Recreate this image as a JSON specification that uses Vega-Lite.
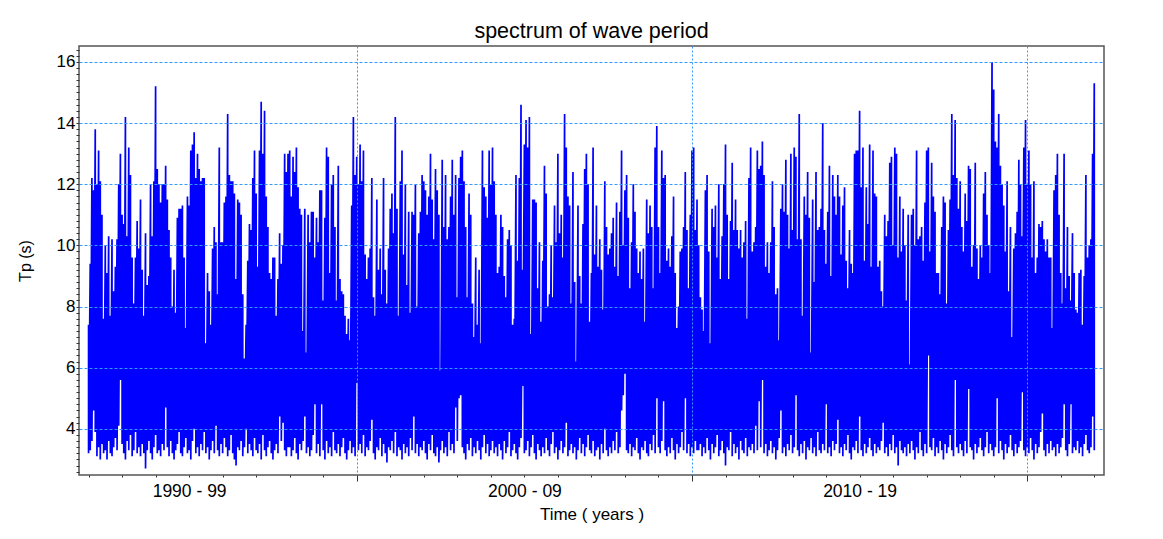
{
"$schema":"https://vega.github.io/schema/vega-lite/v6.json",
"width":1025,"height":429,
"autosize":{"type":"none"},
"padding":{"left":79,"top":46,"right":59,"bottom":64},
"background":"#ffffff",
"title":{"text":"spectrum of wave period","fontSize":21.5,"font":"Liberation Sans","fontWeight":"normal","color":"#000000","offset":-2,"anchor":"middle"},
"config":{"view":{"stroke":"#555555","strokeWidth":1.5},"font":"Liberation Sans"},
"data":{"values":[
{"t":1992,"h":7.4,"l":3.2},{"t":1992.05,"h":9.4,"l":3.3},{"t":1992.1,"h":12.2,"l":3.6},{"t":1992.15,"h":11.8,"l":4.6},{"t":1992.2,"h":13.8,"l":3.9},{"t":1992.25,"h":12.0,"l":3.1},{"t":1992.3,"h":13.1,"l":3.4},{"t":1992.35,"h":12.1,"l":3.0},{"t":1992.4,"h":11.0,"l":3.5},{"t":1992.45,"h":7.6,"l":3.2},
{"t":1992.5,"h":10.0,"l":3.3},{"t":1992.55,"h":9.1,"l":3.0},{"t":1992.6,"h":10.3,"l":3.6},{"t":1992.65,"h":7.7,"l":3.2},{"t":1992.7,"h":10.2,"l":3.1},{"t":1992.75,"h":8.5,"l":3.4},{"t":1992.8,"h":9.3,"l":3.7},{"t":1992.85,"h":10.2,"l":3.3},{"t":1992.9,"h":12.0,"l":4.1},{"t":1992.95,"h":13.0,"l":5.6},
{"t":1993,"h":11.0,"l":3.5},{"t":1993.05,"h":10.7,"l":3.2},{"t":1993.1,"h":14.2,"l":3.0},{"t":1993.15,"h":10.3,"l":3.6},{"t":1993.2,"h":13.2,"l":3.3},{"t":1993.25,"h":12.3,"l":3.8},{"t":1993.3,"h":9.6,"l":3.1},{"t":1993.35,"h":8.1,"l":3.3},{"t":1993.4,"h":9.6,"l":3.9},{"t":1993.45,"h":10.8,"l":3.2},
{"t":1993.5,"h":9.9,"l":3.4},{"t":1993.55,"h":11.5,"l":3.1},{"t":1993.6,"h":9.2,"l":3.5},{"t":1993.65,"h":7.7,"l":3.2},{"t":1993.7,"h":10.4,"l":2.7},{"t":1993.75,"h":8.7,"l":3.3},{"t":1993.8,"h":9.0,"l":3.6},{"t":1993.85,"h":12.0,"l":3.2},{"t":1993.9,"h":10.3,"l":3.0},{"t":1993.95,"h":12.1,"l":3.4},
{"t":1994,"h":15.2,"l":3.8},{"t":1994.05,"h":12.5,"l":3.2},{"t":1994.1,"h":12.0,"l":3.3},{"t":1994.15,"h":11.4,"l":3.1},{"t":1994.2,"h":12.0,"l":3.5},{"t":1994.25,"h":12.0,"l":3.3},{"t":1994.3,"h":12.6,"l":4.7},{"t":1994.35,"h":11.5,"l":3.4},{"t":1994.4,"h":10.5,"l":3.1},{"t":1994.45,"h":9.6,"l":3.6},
{"t":1994.5,"h":8.0,"l":3.2},{"t":1994.55,"h":9.2,"l":3.0},{"t":1994.6,"h":7.8,"l":3.3},{"t":1994.65,"h":10.9,"l":3.5},{"t":1994.7,"h":11.2,"l":3.9},{"t":1994.75,"h":11.2,"l":3.2},{"t":1994.8,"h":11.3,"l":3.1},{"t":1994.85,"h":9.6,"l":3.4},{"t":1994.9,"h":7.3,"l":3.7},{"t":1994.95,"h":11.6,"l":3.2},
{"t":1995,"h":11.3,"l":3.3},{"t":1995.05,"h":13.1,"l":3.0},{"t":1995.1,"h":13.3,"l":3.6},{"t":1995.15,"h":13.7,"l":4.0},{"t":1995.2,"h":12.2,"l":3.2},{"t":1995.25,"h":13.0,"l":3.4},{"t":1995.3,"h":12.5,"l":3.1},{"t":1995.35,"h":12.1,"l":3.5},{"t":1995.4,"h":12.2,"l":3.3},{"t":1995.45,"h":12.2,"l":3.9},
{"t":1995.5,"h":6.8,"l":3.2},{"t":1995.55,"h":9.1,"l":3.4},{"t":1995.6,"h":8.5,"l":3.0},{"t":1995.65,"h":7.4,"l":3.3},{"t":1995.7,"h":9.9,"l":3.6},{"t":1995.75,"h":10.6,"l":3.2},{"t":1995.8,"h":10.1,"l":4.1},{"t":1995.85,"h":8.4,"l":3.3},{"t":1995.9,"h":13.2,"l":3.1},{"t":1995.95,"h":10.1,"l":3.5},
{"t":1996,"h":10.1,"l":3.2},{"t":1996.05,"h":11.4,"l":3.7},{"t":1996.1,"h":11.6,"l":3.4},{"t":1996.15,"h":14.3,"l":3.1},{"t":1996.2,"h":12.3,"l":3.3},{"t":1996.25,"h":12.1,"l":3.8},{"t":1996.3,"h":12.1,"l":3.2},{"t":1996.35,"h":11.7,"l":3.0},{"t":1996.4,"h":8.9,"l":2.8},{"t":1996.45,"h":11.5,"l":3.4},
{"t":1996.5,"h":11.4,"l":3.3},{"t":1996.55,"h":11.0,"l":3.6},{"t":1996.6,"h":8.4,"l":3.1},{"t":1996.65,"h":6.3,"l":3.4},{"t":1996.7,"h":7.4,"l":4.0},{"t":1996.75,"h":9.5,"l":3.2},{"t":1996.8,"h":10.7,"l":3.5},{"t":1996.85,"h":10.5,"l":3.3},{"t":1996.9,"h":12.2,"l":3.1},{"t":1996.95,"h":13.1,"l":3.7},
{"t":1997,"h":11.7,"l":3.3},{"t":1997.05,"h":9.3,"l":3.2},{"t":1997.1,"h":13.1,"l":3.5},{"t":1997.15,"h":14.7,"l":3.0},{"t":1997.2,"h":13.0,"l":3.8},{"t":1997.25,"h":14.4,"l":3.3},{"t":1997.3,"h":11.6,"l":3.1},{"t":1997.35,"h":10.6,"l":3.4},{"t":1997.4,"h":9.1,"l":3.6},{"t":1997.45,"h":8.9,"l":3.2},
{"t":1997.5,"h":9.6,"l":3.0},{"t":1997.55,"h":9.6,"l":3.3},{"t":1997.6,"h":7.7,"l":3.5},{"t":1997.65,"h":8.9,"l":3.2},{"t":1997.7,"h":10.4,"l":4.4},{"t":1997.75,"h":9.4,"l":3.6},{"t":1997.8,"h":10.0,"l":4.2},{"t":1997.85,"h":13.0,"l":3.3},{"t":1997.9,"h":12.4,"l":3.1},{"t":1997.95,"h":13.0,"l":3.4},
{"t":1998,"h":13.1,"l":3.4},{"t":1998.05,"h":11.6,"l":3.1},{"t":1998.1,"h":12.9,"l":3.3},{"t":1998.15,"h":12.4,"l":3.7},{"t":1998.2,"h":13.2,"l":3.2},{"t":1998.25,"h":11.9,"l":3.0},{"t":1998.3,"h":11.2,"l":3.5},{"t":1998.35,"h":11.0,"l":3.3},{"t":1998.4,"h":7.2,"l":3.6},{"t":1998.45,"h":11.2,"l":4.4},
{"t":1998.5,"h":6.5,"l":3.2},{"t":1998.55,"h":11.0,"l":3.4},{"t":1998.6,"h":10.1,"l":3.1},{"t":1998.65,"h":11.1,"l":3.3},{"t":1998.7,"h":11.1,"l":3.8},{"t":1998.75,"h":9.6,"l":4.8},{"t":1998.8,"h":10.9,"l":3.2},{"t":1998.85,"h":10.1,"l":3.5},{"t":1998.9,"h":11.8,"l":3.1},{"t":1998.95,"h":11.8,"l":4.8},
{"t":1999,"h":8.2,"l":3.3},{"t":1999.05,"h":10.9,"l":3.0},{"t":1999.1,"h":13.2,"l":3.6},{"t":1999.15,"h":12.9,"l":3.2},{"t":1999.2,"h":9.1,"l":3.4},{"t":1999.25,"h":12.0,"l":3.1},{"t":1999.3,"h":12.3,"l":3.9},{"t":1999.35,"h":10.6,"l":3.3},{"t":1999.4,"h":8.2,"l":3.2},{"t":1999.45,"h":12.6,"l":3.5},
{"t":1999.5,"h":8.9,"l":3.1},{"t":1999.55,"h":8.5,"l":3.4},{"t":1999.6,"h":8.4,"l":3.7},{"t":1999.65,"h":7.7,"l":3.2},{"t":1999.7,"h":7.1,"l":3.0},{"t":1999.75,"h":7.6,"l":3.3},{"t":1999.8,"h":6.9,"l":3.6},{"t":1999.85,"h":11.3,"l":3.2},{"t":1999.9,"h":14.2,"l":3.4},{"t":1999.95,"h":12.3,"l":3.1},
{"t":2000,"h":12.9,"l":5.5},{"t":2000.05,"h":12.0,"l":3.3},{"t":2000.1,"h":13.3,"l":3.5},{"t":2000.15,"h":12.1,"l":3.2},{"t":2000.2,"h":13.1,"l":3.8},{"t":2000.25,"h":9.7,"l":3.1},{"t":2000.3,"h":8.9,"l":3.4},{"t":2000.35,"h":9.6,"l":3.3},{"t":2000.4,"h":9.9,"l":3.6},{"t":2000.45,"h":12.2,"l":4.3},
{"t":2000.5,"h":8.3,"l":3.2},{"t":2000.55,"h":7.7,"l":3.0},{"t":2000.6,"h":11.5,"l":3.4},{"t":2000.65,"h":9.2,"l":3.3},{"t":2000.7,"h":9.9,"l":3.7},{"t":2000.75,"h":8.4,"l":3.1},{"t":2000.8,"h":12.2,"l":3.5},{"t":2000.85,"h":9.2,"l":3.2},{"t":2000.9,"h":8.1,"l":2.9},{"t":2000.95,"h":9.9,"l":3.4},
{"t":2001,"h":11.2,"l":3.3},{"t":2001.05,"h":11.7,"l":3.6},{"t":2001.1,"h":10.4,"l":3.2},{"t":2001.15,"h":14.2,"l":3.9},{"t":2001.2,"h":11.2,"l":3.1},{"t":2001.25,"h":7.7,"l":3.4},{"t":2001.3,"h":12.1,"l":3.3},{"t":2001.35,"h":13.1,"l":3.0},{"t":2001.4,"h":9.7,"l":3.5},{"t":2001.45,"h":12.0,"l":3.2},
{"t":2001.5,"h":8.7,"l":3.4},{"t":2001.55,"h":11.1,"l":3.1},{"t":2001.6,"h":7.8,"l":3.7},{"t":2001.65,"h":11.1,"l":3.3},{"t":2001.7,"h":11.0,"l":4.4},{"t":2001.75,"h":12.0,"l":3.2},{"t":2001.8,"h":8.0,"l":3.5},{"t":2001.85,"h":10.4,"l":3.1},{"t":2001.9,"h":11.1,"l":3.4},{"t":2001.95,"h":12.3,"l":3.3},
{"t":2002,"h":12.1,"l":3.6},{"t":2002.05,"h":11.8,"l":3.2},{"t":2002.1,"h":11.0,"l":3.0},{"t":2002.15,"h":11.6,"l":3.5},{"t":2002.2,"h":13.0,"l":3.3},{"t":2002.25,"h":11.5,"l":3.8},{"t":2002.3,"h":10.2,"l":3.2},{"t":2002.35,"h":12.5,"l":3.1},{"t":2002.4,"h":11.8,"l":3.4},{"t":2002.45,"h":11.0,"l":2.9},
{"t":2002.5,"h":5.9,"l":3.3},{"t":2002.55,"h":12.8,"l":3.6},{"t":2002.6,"h":10.6,"l":3.2},{"t":2002.65,"h":12.3,"l":3.4},{"t":2002.7,"h":10.2,"l":3.1},{"t":2002.75,"h":10.6,"l":3.9},{"t":2002.8,"h":11.6,"l":3.3},{"t":2002.85,"h":12.8,"l":3.5},{"t":2002.9,"h":11.0,"l":3.2},{"t":2002.95,"h":12.3,"l":4.7},
{"t":2003,"h":8.3,"l":3.6},{"t":2003.05,"h":12.2,"l":5.0},{"t":2003.1,"h":12.9,"l":5.1},{"t":2003.15,"h":13.1,"l":3.4},{"t":2003.2,"h":12.1,"l":3.2},{"t":2003.25,"h":10.6,"l":3.0},{"t":2003.3,"h":8.3,"l":3.5},{"t":2003.35,"h":11.7,"l":3.3},{"t":2003.4,"h":11.0,"l":3.7},{"t":2003.45,"h":8.1,"l":3.1},
{"t":2003.5,"h":7.0,"l":3.4},{"t":2003.55,"h":9.6,"l":3.2},{"t":2003.6,"h":7.4,"l":3.6},{"t":2003.65,"h":9.2,"l":3.3},{"t":2003.7,"h":6.8,"l":3.0},{"t":2003.75,"h":13.1,"l":3.4},{"t":2003.8,"h":11.9,"l":3.8},{"t":2003.85,"h":11.6,"l":3.2},{"t":2003.9,"h":10.9,"l":3.5},{"t":2003.95,"h":13.1,"l":3.1},
{"t":2004,"h":12.0,"l":3.3},{"t":2004.05,"h":13.2,"l":3.6},{"t":2004.1,"h":12.1,"l":3.2},{"t":2004.15,"h":11.0,"l":3.4},{"t":2004.2,"h":9.1,"l":3.1},{"t":2004.25,"h":9.3,"l":3.5},{"t":2004.3,"h":11.0,"l":3.3},{"t":2004.35,"h":10.6,"l":3.0},{"t":2004.4,"h":9.0,"l":3.6},{"t":2004.45,"h":8.3,"l":3.2},
{"t":2004.5,"h":10.2,"l":3.4},{"t":2004.55,"h":10.5,"l":3.9},{"t":2004.6,"h":10.0,"l":3.1},{"t":2004.65,"h":7.4,"l":3.3},{"t":2004.7,"h":7.6,"l":3.5},{"t":2004.75,"h":12.3,"l":3.2},{"t":2004.8,"h":9.5,"l":3.0},{"t":2004.85,"h":12.2,"l":3.4},{"t":2004.9,"h":14.6,"l":3.7},{"t":2004.95,"h":9.2,"l":5.4},
{"t":2005,"h":13.3,"l":3.2},{"t":2005.05,"h":14.1,"l":3.3},{"t":2005.1,"h":13.2,"l":3.6},{"t":2005.15,"h":14.2,"l":3.1},{"t":2005.2,"h":7.1,"l":3.4},{"t":2005.25,"h":11.5,"l":3.8},{"t":2005.3,"h":11.5,"l":3.2},{"t":2005.35,"h":11.4,"l":3.0},{"t":2005.4,"h":8.6,"l":3.5},{"t":2005.45,"h":10.1,"l":3.3},
{"t":2005.5,"h":7.5,"l":3.1},{"t":2005.55,"h":9.5,"l":3.4},{"t":2005.6,"h":12.6,"l":3.2},{"t":2005.65,"h":11.7,"l":3.7},{"t":2005.7,"h":8.0,"l":3.3},{"t":2005.75,"h":8.4,"l":3.1},{"t":2005.8,"h":10.0,"l":3.5},{"t":2005.85,"h":8.3,"l":3.9},{"t":2005.9,"h":11.3,"l":3.2},{"t":2005.95,"h":10.1,"l":3.4},
{"t":2006,"h":13.0,"l":3.0},{"t":2006.05,"h":10.4,"l":3.3},{"t":2006.1,"h":11.0,"l":3.6},{"t":2006.15,"h":9.6,"l":3.2},{"t":2006.2,"h":14.3,"l":3.4},{"t":2006.25,"h":13.2,"l":4.2},{"t":2006.3,"h":11.6,"l":3.1},{"t":2006.35,"h":11.3,"l":3.3},{"t":2006.4,"h":8.1,"l":3.5},{"t":2006.45,"h":12.4,"l":3.2},
{"t":2006.5,"h":8.8,"l":3.4},{"t":2006.55,"h":6.2,"l":3.0},{"t":2006.6,"h":11.3,"l":3.3},{"t":2006.65,"h":9.0,"l":3.7},{"t":2006.7,"h":8.1,"l":3.2},{"t":2006.75,"h":10.7,"l":3.5},{"t":2006.8,"h":12.5,"l":3.1},{"t":2006.85,"h":13.0,"l":3.4},{"t":2006.9,"h":12.0,"l":3.8},{"t":2006.95,"h":7.5,"l":3.3},
{"t":2007,"h":9.1,"l":3.2},{"t":2007.05,"h":13.2,"l":3.6},{"t":2007.1,"h":9.7,"l":3.1},{"t":2007.15,"h":11.3,"l":3.3},{"t":2007.2,"h":9.3,"l":3.4},{"t":2007.25,"h":10.2,"l":3.0},{"t":2007.3,"h":9.2,"l":3.5},{"t":2007.35,"h":7.9,"l":3.2},{"t":2007.4,"h":12.1,"l":4.0},{"t":2007.45,"h":10.6,"l":3.3},
{"t":2007.5,"h":9.7,"l":3.1},{"t":2007.55,"h":9.9,"l":3.4},{"t":2007.6,"h":10.4,"l":3.2},{"t":2007.65,"h":10.9,"l":3.6},{"t":2007.7,"h":9.3,"l":3.3},{"t":2007.75,"h":11.4,"l":3.9},{"t":2007.8,"h":9.0,"l":3.2},{"t":2007.85,"h":11.1,"l":3.4},{"t":2007.9,"h":13.1,"l":4.6},{"t":2007.95,"h":10.0,"l":5.1},
{"t":2008,"h":11.8,"l":5.8},{"t":2008.05,"h":12.3,"l":3.3},{"t":2008.1,"h":10.9,"l":3.2},{"t":2008.15,"h":8.6,"l":3.5},{"t":2008.2,"h":10.1,"l":3.1},{"t":2008.25,"h":12.0,"l":3.4},{"t":2008.3,"h":11.1,"l":3.3},{"t":2008.35,"h":9.9,"l":3.7},{"t":2008.4,"h":9.1,"l":3.2},{"t":2008.45,"h":9.8,"l":3.0},
{"t":2008.5,"h":8.9,"l":3.4},{"t":2008.55,"h":9.9,"l":3.3},{"t":2008.6,"h":7.5,"l":3.6},{"t":2008.65,"h":11.5,"l":3.2},{"t":2008.7,"h":10.4,"l":3.1},{"t":2008.75,"h":11.3,"l":3.5},{"t":2008.8,"h":10.6,"l":3.3},{"t":2008.85,"h":8.6,"l":3.8},{"t":2008.9,"h":13.2,"l":3.2},{"t":2008.95,"h":13.9,"l":5.0},
{"t":2009,"h":10.6,"l":3.4},{"t":2009.05,"h":9.1,"l":3.2},{"t":2009.1,"h":13.1,"l":3.6},{"t":2009.15,"h":12.2,"l":4.9},{"t":2009.2,"h":12.3,"l":3.3},{"t":2009.25,"h":9.5,"l":3.1},{"t":2009.3,"h":9.9,"l":3.4},{"t":2009.35,"h":9.3,"l":3.2},{"t":2009.4,"h":10.3,"l":3.7},{"t":2009.45,"h":11.6,"l":3.3},
{"t":2009.5,"h":9.1,"l":3.0},{"t":2009.55,"h":7.3,"l":3.5},{"t":2009.6,"h":8.0,"l":3.2},{"t":2009.65,"h":9.8,"l":3.4},{"t":2009.7,"h":9.9,"l":3.9},{"t":2009.75,"h":10.6,"l":3.3},{"t":2009.8,"h":12.4,"l":5.0},{"t":2009.85,"h":10.5,"l":3.2},{"t":2009.9,"h":8.6,"l":3.5},{"t":2009.95,"h":11.0,"l":3.1},
{"t":2010,"h":13.1,"l":3.4},{"t":2010.05,"h":13.2,"l":3.2},{"t":2010.1,"h":10.5,"l":3.6},{"t":2010.15,"h":11.5,"l":3.3},{"t":2010.2,"h":10.0,"l":3.3},{"t":2010.25,"h":8.3,"l":3.5},{"t":2010.3,"h":7.9,"l":3.1},{"t":2010.35,"h":7.2,"l":3.4},{"t":2010.4,"h":11.8,"l":3.2},{"t":2010.45,"h":12.3,"l":3.7},
{"t":2010.5,"h":9.8,"l":3.3},{"t":2010.55,"h":6.8,"l":3.0},{"t":2010.6,"h":11.2,"l":3.5},{"t":2010.65,"h":10.6,"l":3.2},{"t":2010.7,"h":11.3,"l":3.4},{"t":2010.75,"h":9.6,"l":3.8},{"t":2010.8,"h":12.0,"l":3.1},{"t":2010.85,"h":8.9,"l":3.3},{"t":2010.9,"h":10.3,"l":3.6},{"t":2010.95,"h":12.0,"l":3.2},
{"t":2011,"h":13.3,"l":2.8},{"t":2011.05,"h":11.0,"l":3.4},{"t":2011.1,"h":8.9,"l":3.3},{"t":2011.15,"h":10.8,"l":3.9},{"t":2011.2,"h":12.7,"l":3.1},{"t":2011.25,"h":10.5,"l":3.5},{"t":2011.3,"h":11.5,"l":3.2},{"t":2011.35,"h":10.5,"l":3.4},{"t":2011.4,"h":9.9,"l":3.0},{"t":2011.45,"h":10.5,"l":3.6},
{"t":2011.5,"h":9.6,"l":3.3},{"t":2011.55,"h":10.1,"l":3.2},{"t":2011.6,"h":10.8,"l":3.7},{"t":2011.65,"h":7.6,"l":3.1},{"t":2011.7,"h":12.2,"l":3.4},{"t":2011.75,"h":13.2,"l":3.3},{"t":2011.8,"h":9.8,"l":3.5},{"t":2011.85,"h":10.1,"l":3.2},{"t":2011.9,"h":10.6,"l":4.1},{"t":2011.95,"h":13.1,"l":3.3},
{"t":2012,"h":12.5,"l":4.9},{"t":2012.05,"h":12.6,"l":3.4},{"t":2012.1,"h":13.4,"l":5.6},{"t":2012.15,"h":12.3,"l":3.2},{"t":2012.2,"h":9.3,"l":3.5},{"t":2012.25,"h":10.1,"l":3.1},{"t":2012.3,"h":9.1,"l":3.3},{"t":2012.35,"h":10.1,"l":3.6},{"t":2012.4,"h":12.1,"l":3.2},{"t":2012.45,"h":10.6,"l":3.4},
{"t":2012.5,"h":8.4,"l":3.0},{"t":2012.55,"h":8.6,"l":3.3},{"t":2012.6,"h":6.9,"l":3.7},{"t":2012.65,"h":11.2,"l":4.6},{"t":2012.7,"h":12.0,"l":3.2},{"t":2012.75,"h":11.1,"l":3.4},{"t":2012.8,"h":12.8,"l":3.1},{"t":2012.85,"h":11.0,"l":3.5},{"t":2012.9,"h":9.9,"l":3.3},{"t":2012.95,"h":13.0,"l":3.8},
{"t":2013,"h":10.5,"l":3.2},{"t":2013.05,"h":13.2,"l":3.4},{"t":2013.1,"h":12.9,"l":5.1},{"t":2013.15,"h":10.2,"l":3.3},{"t":2013.2,"h":14.3,"l":3.1},{"t":2013.25,"h":10.2,"l":3.5},{"t":2013.3,"h":7.7,"l":3.2},{"t":2013.35,"h":11.6,"l":3.6},{"t":2013.4,"h":11.0,"l":3.0},{"t":2013.45,"h":12.4,"l":3.4},
{"t":2013.5,"h":10.9,"l":3.3},{"t":2013.55,"h":6.5,"l":3.7},{"t":2013.6,"h":11.5,"l":3.2},{"t":2013.65,"h":8.8,"l":3.4},{"t":2013.7,"h":12.4,"l":3.1},{"t":2013.75,"h":10.5,"l":3.9},{"t":2013.8,"h":10.6,"l":3.3},{"t":2013.85,"h":11.2,"l":3.2},{"t":2013.9,"h":14.0,"l":3.5},{"t":2013.95,"h":10.5,"l":3.3},
{"t":2014,"h":9.4,"l":4.8},{"t":2014.05,"h":11.1,"l":3.2},{"t":2014.1,"h":12.6,"l":3.4},{"t":2014.15,"h":9.0,"l":3.1},{"t":2014.2,"h":12.3,"l":3.6},{"t":2014.25,"h":11.6,"l":3.3},{"t":2014.3,"h":11.0,"l":3.5},{"t":2014.35,"h":12.3,"l":4.3},{"t":2014.4,"h":11.6,"l":3.2},{"t":2014.45,"h":9.7,"l":3.4},
{"t":2014.5,"h":11.3,"l":3.1},{"t":2014.55,"h":11.9,"l":3.5},{"t":2014.6,"h":9.5,"l":3.3},{"t":2014.65,"h":8.6,"l":3.8},{"t":2014.7,"h":10.5,"l":3.2},{"t":2014.75,"h":9.4,"l":3.0},{"t":2014.8,"h":9.1,"l":3.4},{"t":2014.85,"h":13.0,"l":3.3},{"t":2014.9,"h":13.1,"l":3.6},{"t":2014.95,"h":13.1,"l":3.2},
{"t":2015,"h":14.4,"l":4.4},{"t":2015.05,"h":11.9,"l":3.3},{"t":2015.1,"h":13.2,"l":3.1},{"t":2015.15,"h":9.5,"l":3.5},{"t":2015.2,"h":11.9,"l":3.2},{"t":2015.25,"h":10.7,"l":3.4},{"t":2015.3,"h":13.3,"l":3.7},{"t":2015.35,"h":9.3,"l":3.3},{"t":2015.4,"h":13.1,"l":3.1},{"t":2015.45,"h":11.7,"l":3.5},
{"t":2015.5,"h":11.6,"l":3.2},{"t":2015.55,"h":9.3,"l":3.4},{"t":2015.6,"h":9.5,"l":3.3},{"t":2015.65,"h":8.5,"l":3.6},{"t":2015.7,"h":8.0,"l":4.2},{"t":2015.75,"h":11.0,"l":3.2},{"t":2015.8,"h":10.3,"l":3.4},{"t":2015.85,"h":10.8,"l":3.1},{"t":2015.9,"h":12.7,"l":3.5},{"t":2015.95,"h":12.9,"l":3.3},
{"t":2016,"h":10.0,"l":3.8},{"t":2016.05,"h":13.2,"l":3.2},{"t":2016.1,"h":13.0,"l":3.4},{"t":2016.15,"h":9.6,"l":2.8},{"t":2016.2,"h":11.6,"l":3.6},{"t":2016.25,"h":9.8,"l":3.3},{"t":2016.3,"h":11.2,"l":3.2},{"t":2016.35,"h":10.0,"l":3.4},{"t":2016.4,"h":8.2,"l":3.1},{"t":2016.45,"h":11.0,"l":3.5},
{"t":2016.5,"h":6.1,"l":3.2},{"t":2016.55,"h":11.0,"l":3.6},{"t":2016.6,"h":11.2,"l":3.3},{"t":2016.65,"h":10.0,"l":3.0},{"t":2016.7,"h":13.1,"l":3.4},{"t":2016.75,"h":10.2,"l":3.2},{"t":2016.8,"h":10.3,"l":3.9},{"t":2016.85,"h":10.6,"l":3.3},{"t":2016.9,"h":9.5,"l":3.1},{"t":2016.95,"h":11.4,"l":3.5},
{"t":2017,"h":13.1,"l":3.2},{"t":2017.05,"h":13.2,"l":6.4},{"t":2017.1,"h":9.8,"l":3.4},{"t":2017.15,"h":12.7,"l":3.3},{"t":2017.2,"h":11.6,"l":3.7},{"t":2017.25,"h":11.1,"l":3.1},{"t":2017.3,"h":9.1,"l":3.4},{"t":2017.35,"h":9.1,"l":3.2},{"t":2017.4,"h":8.4,"l":3.6},{"t":2017.45,"h":10.6,"l":3.3},
{"t":2017.5,"h":11.6,"l":3.0},{"t":2017.55,"h":11.4,"l":3.5},{"t":2017.6,"h":8.1,"l":3.2},{"t":2017.65,"h":10.5,"l":3.4},{"t":2017.7,"h":11.5,"l":3.8},{"t":2017.75,"h":14.3,"l":3.3},{"t":2017.8,"h":12.3,"l":3.1},{"t":2017.85,"h":14.1,"l":5.6},{"t":2017.9,"h":12.2,"l":3.4},{"t":2017.95,"h":11.2,"l":3.2},
{"t":2018,"h":12.1,"l":3.5},{"t":2018.05,"h":10.6,"l":3.3},{"t":2018.1,"h":9.8,"l":3.1},{"t":2018.15,"h":11.7,"l":3.6},{"t":2018.2,"h":10.8,"l":3.2},{"t":2018.25,"h":12.6,"l":5.3},{"t":2018.3,"h":12.5,"l":3.4},{"t":2018.35,"h":9.3,"l":3.3},{"t":2018.4,"h":10.0,"l":3.0},{"t":2018.45,"h":12.7,"l":3.5},
{"t":2018.5,"h":9.9,"l":3.2},{"t":2018.55,"h":8.9,"l":3.4},{"t":2018.6,"h":10.0,"l":3.7},{"t":2018.65,"h":9.6,"l":3.3},{"t":2018.7,"h":11.7,"l":3.1},{"t":2018.75,"h":12.4,"l":3.4},{"t":2018.8,"h":11.0,"l":3.9},{"t":2018.85,"h":10.0,"l":3.2},{"t":2018.9,"h":9.1,"l":3.5},{"t":2018.95,"h":16.0,"l":3.3},
{"t":2019,"h":15.1,"l":3.1},{"t":2019.05,"h":13.4,"l":3.4},{"t":2019.1,"h":13.2,"l":5.0},{"t":2019.15,"h":14.3,"l":3.2},{"t":2019.2,"h":12.6,"l":3.6},{"t":2019.25,"h":12.0,"l":3.3},{"t":2019.3,"h":11.3,"l":3.0},{"t":2019.35,"h":9.8,"l":3.5},{"t":2019.4,"h":12.1,"l":3.2},{"t":2019.45,"h":8.5,"l":3.4},
{"t":2019.5,"h":10.6,"l":3.8},{"t":2019.55,"h":7.0,"l":3.3},{"t":2019.6,"h":9.9,"l":3.1},{"t":2019.65,"h":10.4,"l":3.5},{"t":2019.7,"h":11.1,"l":3.2},{"t":2019.75,"h":12.8,"l":3.4},{"t":2019.8,"h":12.0,"l":3.6},{"t":2019.85,"h":10.3,"l":5.2},{"t":2019.9,"h":13.2,"l":3.3},{"t":2019.95,"h":14.1,"l":3.1},
{"t":2020,"h":12.0,"l":3.4},{"t":2020.05,"h":13.1,"l":3.2},{"t":2020.1,"h":12.0,"l":3.7},{"t":2020.15,"h":9.6,"l":3.3},{"t":2020.2,"h":12.1,"l":3.0},{"t":2020.25,"h":9.1,"l":3.5},{"t":2020.3,"h":9.6,"l":3.2},{"t":2020.35,"h":10.7,"l":3.4},{"t":2020.4,"h":10.6,"l":3.9},{"t":2020.45,"h":10.8,"l":4.5},
{"t":2020.5,"h":10.2,"l":3.3},{"t":2020.55,"h":9.8,"l":3.1},{"t":2020.6,"h":10.2,"l":3.5},{"t":2020.65,"h":9.6,"l":3.2},{"t":2020.7,"h":9.6,"l":3.6},{"t":2020.75,"h":7.3,"l":3.3},{"t":2020.8,"h":11.8,"l":3.4},{"t":2020.85,"h":12.3,"l":3.1},{"t":2020.9,"h":13.0,"l":3.5},{"t":2020.95,"h":11.0,"l":3.2},
{"t":2021,"h":9.1,"l":3.4},{"t":2021.05,"h":8.1,"l":3.7},{"t":2021.1,"h":13.0,"l":4.8},{"t":2021.15,"h":8.6,"l":3.3},{"t":2021.2,"h":10.6,"l":3.1},{"t":2021.25,"h":9.0,"l":3.5},{"t":2021.3,"h":8.2,"l":4.8},{"t":2021.35,"h":10.4,"l":3.2},{"t":2021.4,"h":9.1,"l":3.4},{"t":2021.45,"h":7.9,"l":3.3},
{"t":2021.5,"h":7.8,"l":3.6},{"t":2021.55,"h":9.1,"l":3.2},{"t":2021.6,"h":9.2,"l":3.4},{"t":2021.65,"h":7.4,"l":3.1},{"t":2021.7,"h":9.0,"l":3.5},{"t":2021.75,"h":12.3,"l":3.8},{"t":2021.8,"h":9.6,"l":3.3},{"t":2021.85,"h":10.0,"l":3.2},{"t":2021.9,"h":10.2,"l":3.4},{"t":2021.95,"h":13.0,"l":4.4},
{"t":2022,"h":15.3,"l":3.3}
]},
"transform":[{"fold":["h","l"],"as":["k","v"]}],
"mark":{"type":"line","color":"#0000ff","strokeWidth":1.7,"clip":true},
"encoding":{
"x":{"field":"t","type":"quantitative",
"scale":{"domain":[1991.715,2022.29],"nice":false,"zero":false},
"axis":{"title":"Time ( years )","zindex":1,"values":[1992,1993,1994,1995,1996,1997,1998,1999,2000,2001,2002,2003,2004,2005,2006,2007,2008,2009,2010,2011,2012,2013,2014,2015,2016,2017,2018,2019,2020,2021,2022],
"labelExpr":"datum.value==1995?'1990 - 99':datum.value==2005?'2000 - 09':datum.value==2015?'2010 - 19':''",
"labelOverlap":false,"labelFlush":false,"labelBound":false,
"domain":false,"grid":true,
"gridColor":"#3399ff","gridDash":[2,2],"gridWidth":1,
"gridOpacity":{"condition":{"test":"datum.value%10==0","value":1},"value":0},
"tickColor":"#333333","tickSize":{"condition":{"test":"datum.value%10==0","value":6},"value":2},
"labelFont":"Liberation Sans","labelFontSize":17.5,"labelColor":"#000000","labelPadding":5,
"titleFont":"Liberation Sans","titleFontSize":17,"titleFontWeight":"normal","titleColor":"#000000","titlePadding":3}},
"y":{"field":"v","type":"quantitative",
"scale":{"domain":[2.49,16.52],"nice":false,"zero":false},
"axis":{"title":"Tp (s)","zindex":1,"values":[2.6,2.8,3,3.2,3.4,3.6,3.8,4,4.2,4.4,4.6,4.8,5,5.2,5.4,5.6,5.8,6,6.2,6.4,6.6,6.8,7,7.2,7.4,7.6,7.8,8,8.2,8.4,8.6,8.8,9,9.2,9.4,9.6,9.8,10,10.2,10.4,10.6,10.8,11,11.2,11.4,11.6,11.8,12,12.2,12.4,12.6,12.8,13,13.2,13.4,13.6,13.8,14,14.2,14.4,14.6,14.8,15,15.2,15.4,15.6,15.8,16,16.2,16.4],
"labelExpr":"abs(datum.value-2*round(datum.value/2))<0.01?format(datum.value,'d'):''",
"labelOverlap":false,"labelFlush":false,"labelBound":false,
"domain":false,"grid":true,
"gridColor":"#3399ff","gridDash":[3,2],"gridWidth":1,
"gridOpacity":{"condition":{"test":"abs(datum.value-2*round(datum.value/2))<0.01","value":1},"value":0},
"tickColor":"#333333","tickSize":3,
"labelFont":"Liberation Sans","labelFontSize":17,"labelColor":"#000000","labelPadding":1,
"titleFont":"Liberation Sans","titleFontSize":16,"titleFontWeight":"normal","titleColor":"#000000","titlePadding":23}},
"order":[{"field":"t","type":"quantitative"},{"field":"k","type":"ordinal"}]
}
}
